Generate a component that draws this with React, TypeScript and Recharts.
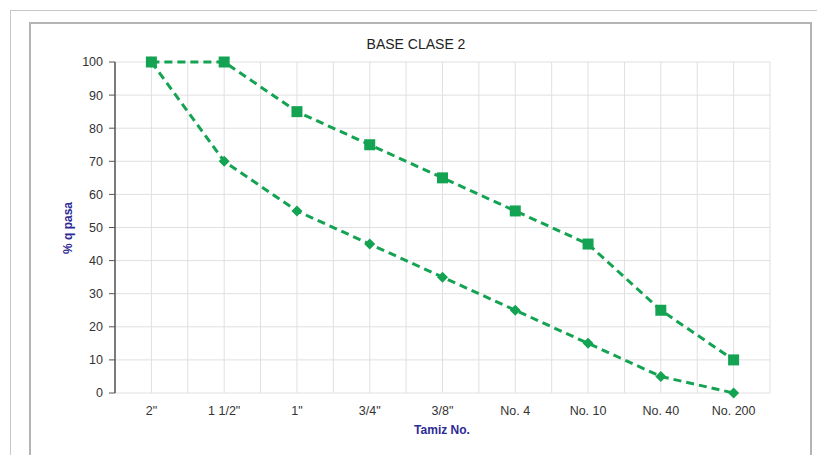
import { LineChart, Line, XAxis, YAxis, CartesianGrid, ReferenceLine } from "recharts";

const sieves = ['2"', '1 1/2"', '1"', '3/4"', '3/8"', "No. 4", "No. 10", "No. 40", "No. 200"];
const upperLimit = [100, 100, 85, 75, 65, 55, 45, 25, 10];
const lowerLimit = [100, 70, 55, 45, 35, 25, 15, 5, 0];
const yTicks = [0, 10, 20, 30, 40, 50, 60, 70, 80, 90, 100];

const GREEN = "#14a352";
const FONT = "'Liberation Sans', Arial, sans-serif";

const data = sieves.map((s, i) => ({ pos: i + 0.5, sieve: s, upper: upperLimit[i], lower: lowerLimit[i] }));
const edgeTicks = sieves.map((_, i) => i).concat(sieves.length);
const labelTicks = data.map((d) => d.pos);
const gridX = [...edgeTicks, ...labelTicks];

const Square = (p: any) => {
  const { cx, cy, index } = p;
  return <rect key={`sq-${index}`} x={cx - 5.5} y={cy - 5.5} width={11} height={11} fill={GREEN} />;
};

const Diamond = (p: any) => {
  const { cx, cy, index } = p;
  const r = 5.5;
  return (
    <polygon
      key={`dm-${index}`}
      points={`${cx},${cy - r} ${cx + r},${cy} ${cx},${cy + r} ${cx - r},${cy}`}
      fill={GREEN}
    />
  );
};

export default function App() {
  return (
    <div style={{ position: "absolute", left: 0, top: 0, width: 817, height: 455, background: "#fff", fontFamily: FONT }}>
      {/* outer page frame */}
      <div style={{ position: "absolute", left: 10, top: 10, width: 807, height: 445, borderTop: "1px solid #c8c8c8", borderLeft: "1px solid #c8c8c8" }} />
      {/* chart frame */}
      <div style={{ position: "absolute", left: 29, top: 22, width: 779, height: 431, border: "2px solid #b4b4b4", borderBottom: "1px solid #c8c8c8" }} />
      <div style={{ position: "absolute", left: 0, top: 36, width: 832, textAlign: "center", fontSize: 14, color: "#222" }}>
        BASE CLASE 2
      </div>
      <div
        style={{
          position: "absolute",
          left: 68,
          top: 228,
          transform: "translate(-50%, -50%) rotate(-90deg)",
          fontSize: 12,
          fontWeight: "bold",
          color: "#2e2a96",
          whiteSpace: "nowrap",
        }}
      >
        % q pasa
      </div>
      <div style={{ position: "absolute", left: 0, top: 423, width: 884, textAlign: "center", fontSize: 12, fontWeight: "bold", color: "#2e2a96" }}>
        Tamiz No.
      </div>
      <div style={{ position: "absolute", left: 0, top: 0 }}>
        <LineChart width={817} height={455} data={data} margin={{ top: 62, right: 47, bottom: 32, left: 70 }}>
          <CartesianGrid vertical={false} stroke="#e0e0e0" />
          {gridX.map((v) => (
            <ReferenceLine key={`g-${v}`} xAxisId="marks" x={v} stroke="#e0e0e0" />
          ))}
          <XAxis
            xAxisId="marks"
            type="number"
            dataKey="pos"
            domain={[0, sieves.length]}
            ticks={edgeTicks}
            height={0}
            tick={() => <g />}
            tickSize={5}
            tickLine={{ stroke: "#555" }}
            axisLine={{ stroke: "#555", strokeWidth: 1.5 }}
          />
          <XAxis
            xAxisId="cat"
            type="number"
            dataKey="pos"
            domain={[0, sieves.length]}
            ticks={labelTicks}
            height={30}
            tickFormatter={(v: number) => sieves[Math.round(v - 0.5)]}
            tickLine={false}
            axisLine={false}
            tick={{ fill: "#333", fontSize: 12.5, fontFamily: FONT }}
            tickMargin={7}
          />
          <YAxis
            type="number"
            domain={[0, 100]}
            ticks={yTicks}
            width={45}
            tickSize={6}
            tickLine={{ stroke: "#555" }}
            axisLine={{ stroke: "#555", strokeWidth: 1.5 }}
            tick={{ fill: "#333", fontSize: 12.5, fontFamily: FONT }}
            tickMargin={6}
          />
          <Line
            xAxisId="cat"
            dataKey="upper"
            stroke={GREEN}
            strokeWidth={3}
            strokeDasharray="8 5"
            dot={Square}
            activeDot={false}
            isAnimationActive={false}
          />
          <Line
            xAxisId="cat"
            dataKey="lower"
            stroke={GREEN}
            strokeWidth={3}
            strokeDasharray="8 5"
            dot={Diamond}
            activeDot={false}
            isAnimationActive={false}
          />
        </LineChart>
      </div>
    </div>
  );
}
